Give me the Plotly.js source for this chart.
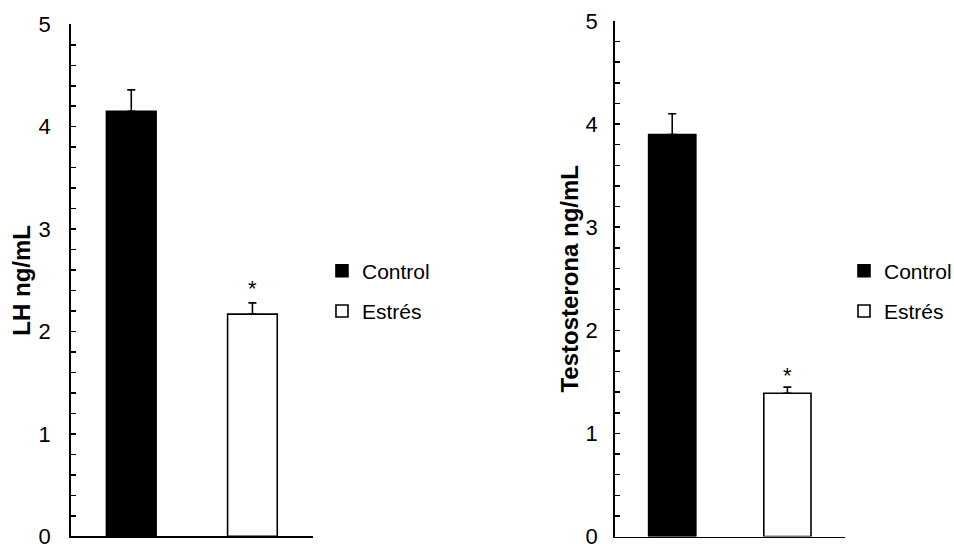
<!DOCTYPE html>
<html>
<head>
<meta charset="utf-8">
<script src="https://cdn.plot.ly/plotly-3.0.1.min.js"></script>
<style>html,body{margin:0;padding:0;background:#fff;}#chart{width:954px;height:544px;}</style>
</head>
<body>
<div id="chart"></div>
<script>
// ---- data ----
const groups = ['Control', 'Estrés'];
const lhMeans = [4.15, 2.17];
const lhErrors = [0.21, 0.11];
const testoMeans = [3.90, 1.39];
const testoErrors = [0.20, 0.06];
const yTitles = ['LH ng/mL', 'Testosterona ng/mL'];
const significance = ['', '*'];
const yTickVals = [0, 1, 2, 3, 4, 5];

const fills = ['#000000', '#ffffff'];
const FONT = 'Liberation Sans, Arial, sans-serif';

function barsFor(means, errs, xa, ya, legendName) {
  return groups.map((g, i) => ({
    type: 'bar',
    name: g,
    x: [g],
    y: [means[i]],
    xaxis: xa, yaxis: ya,
    width: 0.41,
    marker: {color: fills[i], line: {color: '#000', width: 1.6}},
    error_y: {type: 'data', array: [errs[i]], arrayminus: [0], symmetric: false,
              color: '#000', thickness: 1.6, width: 4},
    legend: legendName,
    legendgroup: legendName + g,
    hoverinfo: 'skip'
  }));
}

const data = [
  ...barsFor(lhMeans, lhErrors, 'x', 'y', 'legend'),
  ...barsFor(testoMeans, testoErrors, 'x2', 'y2', 'legend2')
];

function annFor(means, errs, xa, ya, shift) {
  const out = [];
  groups.forEach((g, i) => {
    if (significance[i]) out.push({
      x: g, y: means[i] + errs[i], xref: xa, yref: ya,
      text: significance[i], showarrow: false, yanchor: 'bottom', yshift: shift,
      font: {family: FONT, size: 22, color: '#000'}
    });
  });
  return out;
}

const yBase = {
  range: [0, 5], tickvals: yTickVals, ticks: 'inside', ticklen: 5, tickwidth: 1.5,
  tickcolor: '#000', showline: true, linecolor: '#000', linewidth: 1.5,
  showgrid: false, zeroline: false, ticklabeloverflow: 'allow',
  tickfont: {family: FONT, size: 22, color: '#000'},
  minor: {dtick: 0.2, ticks: 'inside', ticklen: 5, tickwidth: 1.5, tickcolor: '#000', showgrid: false},
  fixedrange: true
};
const xBase = {
  type: 'category', categoryorder: 'array', categoryarray: groups, range: [-0.5, 1.5],
  showticklabels: false, ticks: '', showline: true, linecolor: '#000', linewidth: 1.5,
  showgrid: false, zeroline: false, fixedrange: true
};
const legBase = {
  font: {family: FONT, size: 21, color: '#000'}, bgcolor: 'rgba(0,0,0,0)',
  xanchor: 'left', yanchor: 'middle', y: 0.465, tracegroupgap: 10, itemclick: false
};

const layout = {
  width: 954, height: 544,
  margin: {l: 0, r: 0, t: 0, b: 0, autoexpand: false},
  paper_bgcolor: '#fff', plot_bgcolor: '#fff',
  barmode: 'overlay',
  showlegend: true,
  xaxis: Object.assign({}, xBase, {domain: [0.0741, 0.3281], anchor: 'y'}),
  yaxis: Object.assign({}, yBase, {domain: [0.0140, 0.9553], anchor: 'x', ticklabelstandoff: 14,
    title: {text: yTitles[0], font: {family: FONT, size: 24, weight: 'bold', color: '#000'}, standoff: 1}}),
  xaxis2: Object.assign({}, xBase, {domain: [0.6443, 0.8857], anchor: 'y2'}),
  yaxis2: Object.assign({}, yBase, {domain: [0.0136, 0.9614], anchor: 'x2', ticklabelstandoff: 11,
    title: {text: yTitles[1], font: {family: FONT, size: 24, weight: 'bold', color: '#000'}, standoff: 0}}),
  legend: Object.assign({}, legBase, {x: 0.3375}),
  legend2: Object.assign({}, legBase, {x: 0.8847}),
  annotations: [...annFor(lhMeans, lhErrors, 'x', 'y', 0), ...annFor(testoMeans, testoErrors, 'x2', 'y2', -3)]
};

Plotly.newPlot('chart', data, layout, {staticPlot: true, displayModeBar: false});
</script>
</body>
</html>
